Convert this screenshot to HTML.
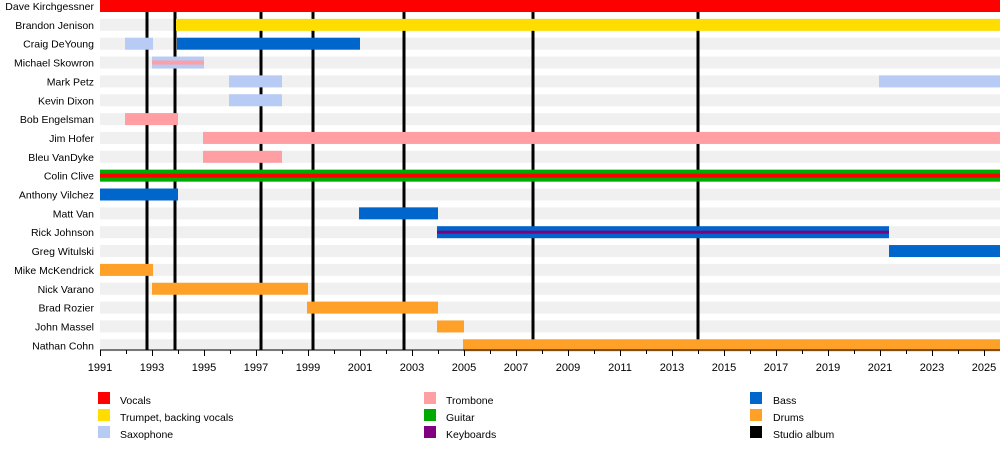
<!DOCTYPE html>
<html><head><meta charset="utf-8"><style>
html,body{margin:0;padding:0;background:#fff;}
svg{display:block;font-family:"Liberation Sans",Arial,sans-serif;}
</style></head><body>
<svg width="1000" height="450" xmlns="http://www.w3.org/2000/svg">
<g id="bands" fill="#f0f0f0"></g>
<g id="lines" stroke="#000" stroke-width="3"></g>
<g id="bars"></g>
<g id="labels" font-size="10.5" text-anchor="end" fill="#000"></g>
<g id="axis"></g>
<g font-size="10.5" fill="#000">
<rect x="98" y="392" width="12" height="12" fill="#ff0000"/><text x="120" y="404">Vocals</text>
<rect x="98" y="409" width="12" height="12" fill="#ffdd00"/><text x="120" y="421">Trumpet, backing vocals</text>
<rect x="98" y="426" width="12" height="12" fill="#b7cbf5"/><text x="120" y="438">Saxophone</text>
<rect x="424" y="392" width="12" height="12" fill="#ff9fa3"/><text x="446" y="404">Trombone</text>
<rect x="424" y="409" width="12" height="12" fill="#00aa00"/><text x="446" y="421">Guitar</text>
<rect x="424" y="426" width="12" height="12" fill="#800080"/><text x="446" y="438">Keyboards</text>
<rect x="750" y="392" width="12" height="12" fill="#0066cc"/><text x="773" y="404">Bass</text>
<rect x="750" y="409" width="12" height="12" fill="#ffa028"/><text x="773" y="421">Drums</text>
<rect x="750" y="426" width="12" height="12" fill="#000"/><text x="773" y="438">Studio album</text>
</g>
</svg>
<script>
const NS="http://www.w3.org/2000/svg";
function el(p,t,a,txt){const e=document.createElementNS(NS,t);for(const k in a)e.setAttribute(k,a[k]);if(txt)e.textContent=txt;document.getElementById(p).appendChild(e);}
const X=y=>100+26*(y-1991);
const C={v:"#ff0000",t:"#ffdd00",s:"#b7cbf5",tb:"#ff9fa3",b:"#0066cc",g:"#00aa00",k:"#800080",d:"#ffa028"};
const rows=[
["Dave Kirchgessner",[[100,1000,"v"]]],
["Brandon Jenison",[[176,1000,"t"]]],
["Craig DeYoung",[[125,153,"s"],[177,360,"b"]]],
["Michael Skowron",[[152,204,"s"]],[[152,204,"tb"]]],
["Mark Petz",[[229,282,"s"],[879,1000,"s"]]],
["Kevin Dixon",[[229,282,"s"]]],
["Bob Engelsman",[[125,178,"tb"]]],
["Jim Hofer",[[203,1000,"tb"]]],
["Bleu VanDyke",[[203,282,"tb"]]],
["Colin Clive",[[100,1000,"g"]],[[100,1000,"v"]]],
["Anthony Vilchez",[[100,178,"b"]]],
["Matt Van",[[359,438,"b"]]],
["Rick Johnson",[[437,889,"b"]],[[437,889,"k"]]],
["Greg Witulski",[[889,1000,"b"]]],
["Mike McKendrick",[[100,153,"d"]]],
["Nick Varano",[[152,308,"d"]]],
["Brad Rozier",[[307,438,"d"]]],
["John Massel",[[437,464,"d"]]],
["Nathan Cohn",[[463,1000,"d"]]]
];
rows.forEach((r,i)=>{
 const cy=6+i*18.85;
 el("bands","rect",{x:100,y:cy-6,width:900,height:12});
 el("labels","text",{x:94,y:cy+4},r[0]);
 r[1].forEach(b=>el("bars","rect",{x:b[0],y:cy-6,width:b[1]-b[0],height:12,fill:C[b[2]]}));
 if(r[2])r[2].forEach(b=>{const h=b[2]=="k"?3:4;el("bars","rect",{x:b[0],y:cy-h/2,width:b[1]-b[0],height:h,fill:C[b[2]]})});
});
[147,175,261,313,404,533,698].forEach(x=>el("lines","line",{x1:x,x2:x,y1:12,y2:350}));
el("axis","line",{x1:100,x2:1000,y1:350,y2:350,stroke:"#000","stroke-width":1});
for(let y=1991;y<=2025;y++){
 const x=X(y)+0.5;
 const major=(y%2==1);
 el("axis","line",{x1:x,x2:x,y1:350,y2:major?356:354,stroke:"#000","stroke-width":1});
 if(major)el("axis","text",{x:X(y),y:371,"font-size":11,"text-anchor":"middle"},String(y));
}
</script>
</body></html>
